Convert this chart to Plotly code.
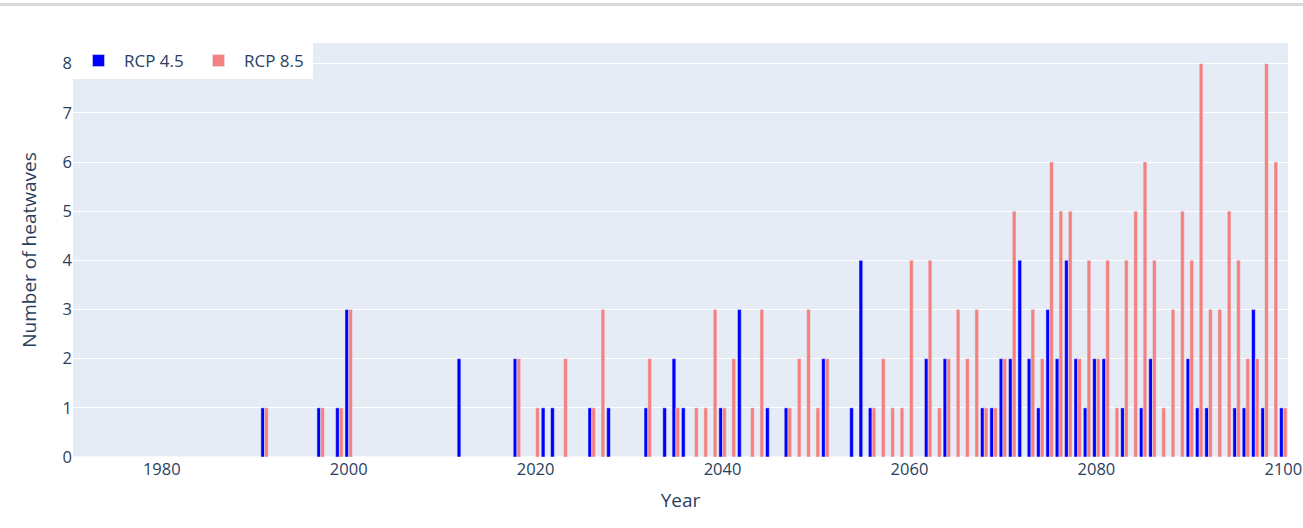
import plotly.graph_objects as go

# Year span shown on the axis (zero-count years included)
first_year = 1971
last_year = 2100

# Number of heatwaves per year (only non-zero years listed)
rcp45_counts = {
    1991: 1, 1997: 1, 1999: 1, 2000: 3, 2012: 2, 2018: 2, 2021: 1, 2022: 1,
    2026: 1, 2028: 1, 2032: 1, 2034: 1, 2035: 2, 2036: 1, 2040: 1, 2042: 3,
    2045: 1, 2047: 1, 2051: 2, 2054: 1, 2055: 4, 2056: 1, 2062: 2, 2064: 2,
    2068: 1, 2069: 1, 2070: 2, 2071: 2, 2072: 4, 2073: 2, 2074: 1, 2075: 3,
    2076: 2, 2077: 4, 2078: 2, 2079: 1, 2080: 2, 2081: 2, 2083: 1, 2085: 1,
    2086: 2, 2090: 2, 2091: 1, 2092: 1, 2095: 1, 2096: 1, 2097: 3, 2098: 1,
    2100: 1,
}

rcp85_counts = {
    1991: 1, 1997: 1, 1999: 1, 2000: 3, 2018: 2, 2020: 1, 2023: 2, 2026: 1,
    2027: 3, 2032: 2, 2035: 1, 2037: 1, 2038: 1, 2039: 3, 2040: 1, 2041: 2,
    2043: 1, 2044: 3, 2047: 1, 2048: 2, 2049: 3, 2050: 1, 2051: 2, 2056: 1,
    2057: 2, 2058: 1, 2059: 1, 2060: 4, 2062: 4, 2063: 1, 2064: 2, 2065: 3,
    2066: 2, 2067: 3, 2068: 1, 2069: 1, 2070: 2, 2071: 5, 2073: 3, 2074: 2,
    2075: 6, 2076: 5, 2077: 5, 2078: 2, 2079: 4, 2080: 2, 2081: 4, 2082: 1,
    2083: 4, 2084: 5, 2085: 6, 2086: 4, 2087: 1, 2088: 3, 2089: 5, 2090: 4,
    2091: 8, 2092: 3, 2093: 3, 2094: 5, 2095: 4, 2096: 2, 2097: 2, 2098: 8,
    2099: 6, 2100: 1,
}

years = list(range(first_year, last_year + 1))
rcp45 = [rcp45_counts.get(y, 0) for y in years]
rcp85 = [rcp85_counts.get(y, 0) for y in years]

fig = go.Figure()
fig.add_trace(go.Bar(x=years, y=rcp45, name="RCP 4.5", marker_color="#0000FF"))
fig.add_trace(go.Bar(x=years, y=rcp85, name="RCP 8.5", marker_color="#F58080"))

fig.update_layout(
    template="plotly",
    width=1303,
    height=528,
    barmode="group",
    margin=dict(l=73, r=15, t=43, b=71),
    font=dict(family="Open Sans, verdana, arial, sans-serif", size=16.5, color="#2a3f5f"),
    legend=dict(orientation="h", x=0, y=1, xanchor="left", yanchor="top",
                bgcolor="white", font=dict(size=17), itemwidth=41, entrywidth=64),
    xaxis=dict(title=dict(text="Year", font=dict(size=19)), showgrid=False,
               dtick=20, tick0=1980, automargin=False),
    yaxis=dict(title=dict(text="Number of heatwaves", font=dict(size=19), standoff=20),
               dtick=1),
    shapes=[dict(type="line", xref="paper", yref="paper",
                 x0=-0.1, x1=1.1, y0=1.093, y1=1.093,
                 line=dict(color="#d9d9d9", width=3))],
)

fig.write_html(
    "out.html",
    config={"displayModeBar": False},
    post_script="document.body.style.margin='0';document.body.style.overflow='hidden';",
)
